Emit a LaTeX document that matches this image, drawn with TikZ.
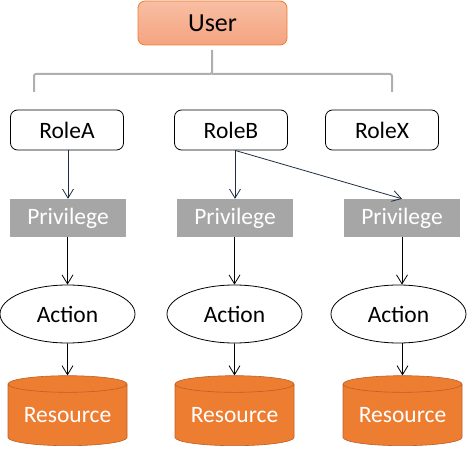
\documentclass[tikz,border=0pt]{standalone}
\usepackage{fontspec}
\setmainfont{Carlito}
\usetikzlibrary{
	arrows.meta,
	shapes.geometric,
	positioning
}
\definecolor{UserTop}{RGB}{248,190,163}
\definecolor{UserBot}{RGB}{244,164,128}
\definecolor{UserLine}{RGB}{237,125,49}
\definecolor{ResFill}{RGB}{237,125,49}
\definecolor{ResLine}{RGB}{190,95,35}
\definecolor{PrivGray}{RGB}{166,166,166}
\definecolor{BraceGray}{RGB}{175,175,175}
\definecolor{LinkNavy}{RGB}{30,45,70}

\begin{document}
\begin{tikzpicture}[x=1pt, y=-1pt,
	txt/.style={font=\fontsize{23.5}{27}\selectfont},
	userbox/.style={txt, font=\fontsize{26}{30}\selectfont, draw=UserLine, line width=0.8pt, rounded corners=7pt,
		top color=UserTop, bottom color=UserBot, minimum width=149pt, minimum height=44pt, inner sep=0pt},
	rolebox/.style={txt, draw=black, line width=0.8pt, rounded corners=7pt, fill=white,
		minimum width=113pt, minimum height=40pt, inner sep=0pt},
	privbox/.style={txt, fill=PrivGray, text=white, minimum width=116pt, minimum height=38pt, inner sep=0pt},
	actbox/.style={txt, ellipse, draw=black, line width=0.8pt, minimum width=135pt, minimum height=58pt, inner sep=0pt},
	resbox/.style={txt, cylinder, shape border rotate=90, aspect=0.19, draw=ResLine, line width=0.6pt,
		fill=ResFill, text=white, minimum width=119pt, minimum height=70pt, inner sep=0pt},
	link/.style={-{Straight Barb[length=9pt,width=11pt]}, line width=0.8pt},
]
	\useasboundingbox (0,0) rectangle (471,449);

	\node[userbox] (user) at (212.5,23) {User};

	% bracket under the user
	\draw[BraceGray, line width=2pt, rounded corners=2pt]
		(34,92) -- (34,74) -- (212,74) -- (212,50);
	\draw[BraceGray, line width=2pt, rounded corners=2pt]
		(212,74) -- (392,74) -- (392,92);

	\node[rolebox] (roleA) at (67,130) {RoleA};
	\node[rolebox] (roleB) at (231,130) {RoleB};
	\node[rolebox] (roleX) at (382,130) {RoleX};

	\node[privbox] (privA) at (68,218) {Privilege};
	\node[privbox] (privB) at (235,218) {Privilege};
	\node[privbox] (privX) at (402,218) {Privilege};

	\node[actbox] (actA) at (67.5,314) {Action};
	\node[actbox] (actB) at (234.5,314) {Action};
	\node[actbox] (actX) at (398.5,314) {Action};

	\node[resbox] (resA) at (67.5,415) {Resource};
	\node[resbox] (resB) at (234.5,415) {Resource};
	\node[resbox] (resX) at (402.5,415) {Resource};

	\coordinate (fork) at (roleB.south -| privB.north);
	\draw[link, LinkNavy] (roleA.south -| privA.north) -- (privA.north);
	\draw[link, LinkNavy] (fork) -- (privB.north);
	\draw[link, LinkNavy] (fork) -- (privX.north);

	\draw[link] (privA.south -| actA.north) -- (actA.north);
	\draw[link] (privB.south -| actB.north) -- (actB.north);
	\draw[link] (privX.south) -- (privX.south |- actX.north);

	\draw[link] (actA) -- (resA.north);
	\draw[link] (actB) -- (resB.north);
	\draw[link] (resX.north |- actX.south) -- (resX.north);
\end{tikzpicture}
\end{document}
